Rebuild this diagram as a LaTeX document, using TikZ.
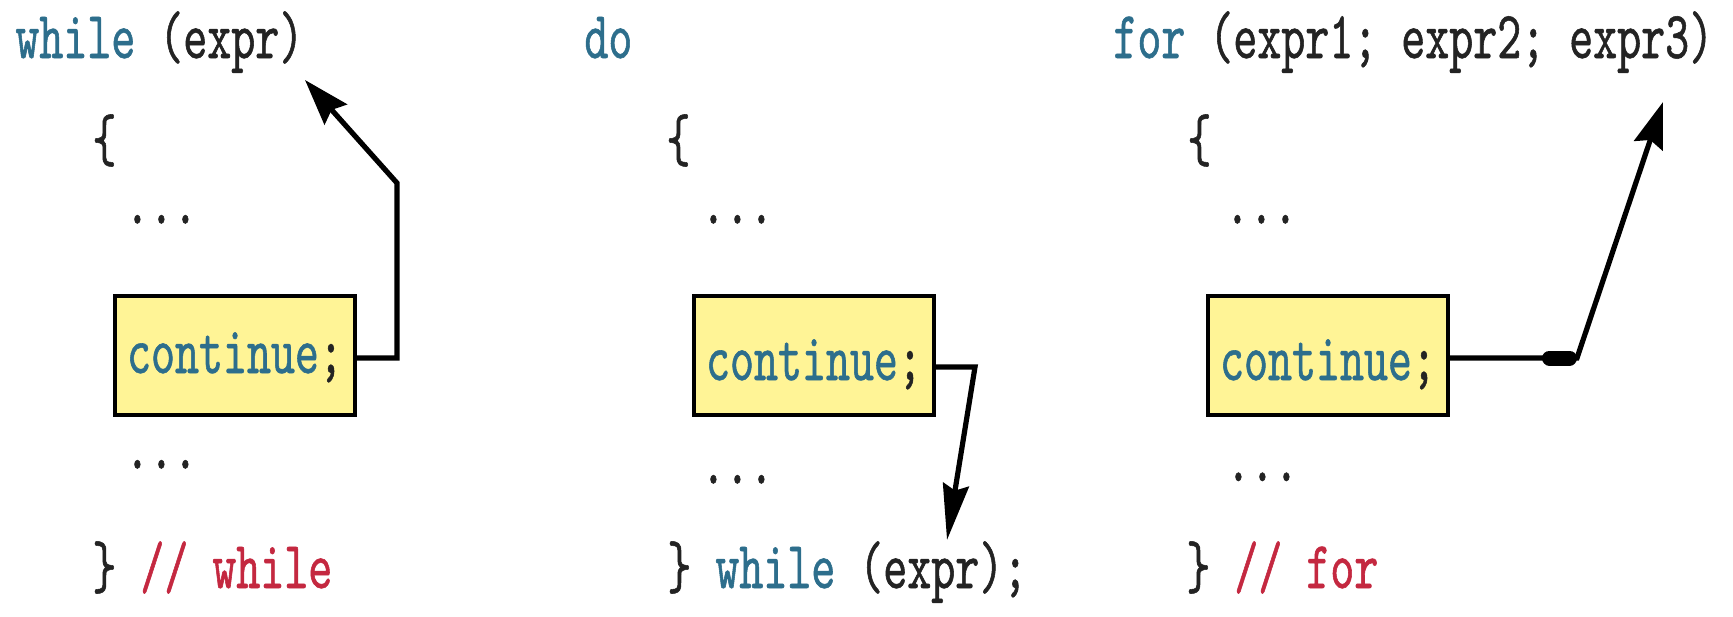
\documentclass[tikz,border=0pt]{standalone}
\usepackage{fontspec}
\newfontfamily\codefont{lmmono10-regular}[Extension=.otf, FakeStretch=0.68, FakeBold=0.8]
\usetikzlibrary{arrows.meta,calc}
\definecolor{kw}{RGB}{45,110,140}
\definecolor{cm}{RGB}{196,40,64}
\definecolor{tx}{RGB}{35,35,35}
\definecolor{boxfill}{RGB}{255,244,150}
\begin{document}
\begin{tikzpicture}[x=0.5pt,y=-0.5pt,
  code/.style={font=\codefont\fontsize{33.6pt}{40pt}\selectfont, text=tx, inner sep=0pt, anchor=base west},
  cbox/.style={draw=black, line width=1.6pt, fill=boxfill, inner sep=0pt,
    minimum width=120pt, minimum height=59.5pt,
    font=\codefont\fontsize{33.6pt}{40pt}\selectfont, text=tx, text depth=2.5pt},
  conn/.style={draw=black, line width=2.6pt, -{Stealth[length=23pt,width=15pt,inset=3pt]}},
  longtip/.style={-{Stealth[length=28pt,width=13pt,inset=3pt]}}
]
\useasboundingbox (0,0) rectangle (1733,616);
\fill[white] (0,0) rectangle (1733,616);

% panel 1: while
\node[code] (w1) at (15,58) {\textcolor{kw}{while} (expr)};
\node[code] (ob1) at (92,161) {\{};
\node[code] (d1a) at (125,223.5) {...};
\node[cbox, text height=20pt] (b1) at (235,355.5) {\textcolor{kw}{continue};};
\node[code] (d1b) at (125,468.5) {...};
\node[code] (cb1) at (92,588) {\} \textcolor{cm}{// while}};

% panel 2: do
\node[code] (do) at (584,58) {\textcolor{kw}{do}};
\node[code] (ob2) at (666,161) {\{};
\node[code] (d2a) at (701,223.5) {...};
\node[cbox, text height=27pt] (b2) at (814,355.5) {\textcolor{kw}{continue};};
\node[code] (d2b) at (701,483.5) {...};
\node[code] (cb2) at (667,588) {\} \textcolor{kw}{while} (expr);};

% panel 3: for
\node[code] (for) at (1113,58) {\textcolor{kw}{for} (expr1; expr2; expr3)};
\node[code] (ob3) at (1187,161) {\{};
\node[code] (d3a) at (1225,223.5) {...};
\node[cbox, text height=27pt] (b3) at (1328,355.5) {\textcolor{kw}{continue};};
\node[code] (d3b) at (1226,481) {...};
\node[code] (cb3) at (1186,588) {\} \textcolor{cm}{// for}};

% connectors
\coordinate (k1) at (397,183);
\coordinate (t1) at (305,80);
\draw[conn] ($(b1.east)+(0,2.5)$) -| (k1) -- (t1);

\coordinate (k2) at (975,367);
\coordinate (t2) at (947,540);
\draw[conn, longtip] ($(b2.east)+(0,11.5)$) -- (k2) -- (t2);

\coordinate (k3) at (1577,358);
\coordinate (t3) at (1663,102);
\draw[conn] ($(b3.east)+(0,2.5)$) -- (k3) -- (t3);
\draw[line width=7.5pt, line cap=round] ($(k3)+(-27.5,0)$) -- ($(k3)+(-7.5,0)$);
\end{tikzpicture}
\end{document}
